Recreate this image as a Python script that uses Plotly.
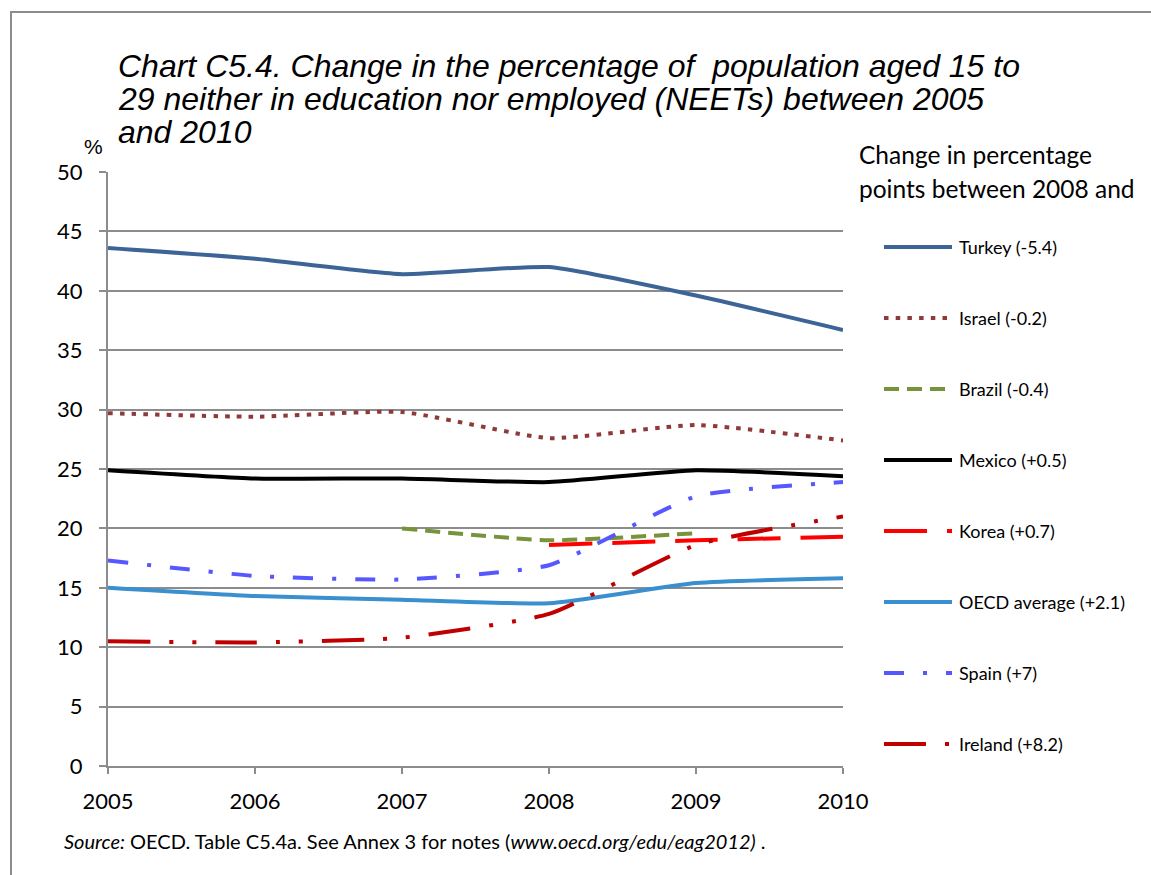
import plotly.graph_objects as go

# NEET rates (% of population aged 15-29), 2005-2010
years = [2005, 2006, 2007, 2008, 2009, 2010]
turkey = [43.6, 42.7, 41.4, 42.0, 39.6, 36.7]
israel = [29.7, 29.4, 29.8, 27.6, 28.7, 27.4]
brazil = [None, None, 20.0, 19.0, 19.6, None]
mexico = [24.9, 24.2, 24.2, 23.9, 24.9, 24.4]
korea = [None, None, None, 18.6, 19.0, 19.3]
oecd = [15.0, 14.3, 14.0, 13.7, 15.4, 15.8]
spain = [17.3, 16.0, 15.7, 16.9, 22.7, 23.9]
ireland = [10.5, 10.4, 10.8, 12.8, 18.6, 21.0]

series_names = ["Turkey (-5.4)", "Israel (-0.2)", "Brazil (-0.4)", "Mexico (+0.5)",
                "Korea (+0.7)", "OECD average (+2.1)", "Spain (+7)", "Ireland (+8.2)"]
series_values = [turkey, israel, brazil, mexico, korea, oecd, spain, ireland]
colors = ["#3C6496", "#8E3A38", "#77933C", "#000000",
          "#FF0000", "#3A8FCE", "#5757FF", "#C00000"]
dashes = ["solid", "4.5px,7.2px", "15px,8px", "solid",
          "43px,20px", "solid", "20px,19px,4px,19px", "42px,19px,4px,19px,4px,19px"]

y_ticks = list(range(0, 51, 5))

title_lines = ["Chart C5.4. Change in the percentage of  population aged 15 to",
               "29 neither in education nor employed (NEETs) between 2005",
               "and 2010"]
legend_title_lines = ["Change in percentage", "points between 2008 and"]

W, H = 1151, 875
L, R, T, B = 108, 308, 172, 109
pw, ph = W - L - R, H - T - B


def px_x(px):
    return (px - L) / pw


def px_y(py):
    return (H - B - py) / ph


calibri = "Lato, 'Open Sans', sans-serif"
arial = "'Liberation Sans', Arial, sans-serif"

fig = go.Figure()
for name, vals, col, dash in zip(series_names, series_values, colors, dashes):
    fig.add_trace(go.Scatter(
        x=years, y=vals, name=name, mode="lines",
        line=dict(color=col, width=4, dash=dash, shape="spline", smoothing=0.5),
        connectgaps=False, showlegend=False,
    ))

shapes = [dict(type="rect", xref="paper", yref="paper",
               x0=px_x(11), y0=px_y(890), x1=px_x(1170), y1=px_y(12),
               line=dict(color="#8c8c8c", width=2), fillcolor="rgba(0,0,0,0)",
               layer="below")]
annotations = []

# Chart title, one annotation per line for tight line spacing
for i, line in enumerate(title_lines):
    annotations.append(dict(
        text=f"<i>{line}</i>", xref="paper", yref="paper",
        x=px_x(116), y=px_y(66 + 33 * i), xanchor="left", yanchor="middle",
        showarrow=False, font=dict(family=arial, size=32, color="#000")))

annotations.append(dict(text="%", xref="paper", yref="paper", x=px_x(93), y=px_y(147),
                        xanchor="center", yanchor="middle", showarrow=False,
                        font=dict(family=arial, size=21, color="#000")))

annotations.append(dict(
    text="<i>Source:</i> OECD. Table C5.4a. See Annex 3 for notes "
         "(<i>www.oecd.org/edu/eag2012)</i> .",
    xref="paper", yref="paper", x=px_x(62), y=px_y(841),
    xanchor="left", yanchor="middle", showarrow=False,
    font=dict(family=calibri, size=20, color="#000")))

# Legend block on the right
for i, line in enumerate(legend_title_lines):
    annotations.append(dict(
        text=line, xref="paper", yref="paper", x=px_x(857), y=px_y(154 + 34 * i),
        xanchor="left", yanchor="middle", showarrow=False,
        font=dict(family=calibri, size=24.5, color="#000")))

for i, (name, col, dash) in enumerate(zip(series_names, colors, dashes)):
    yc = 247 + 71 * i
    shapes.append(dict(type="line", xref="paper", yref="paper",
                       x0=px_x(884), x1=px_x(952), y0=px_y(yc), y1=px_y(yc),
                       line=dict(color=col, width=4, dash=dash)))
    annotations.append(dict(
        text=name, xref="paper", yref="paper", x=px_x(957), y=px_y(yc),
        xanchor="left", yanchor="middle", showarrow=False,
        font=dict(family=calibri, size=18, color="#000")))

fig.update_layout(
    width=W, height=H,
    margin=dict(l=L, r=R, t=T, b=B, autoexpand=False),
    plot_bgcolor="white", paper_bgcolor="white",
    showlegend=False,
    xaxis=dict(
        range=[2005, 2010], tickvals=years, ticktext=[str(y) for y in years],
        showgrid=False, showline=True, linecolor="#8c8c8c", linewidth=2,
        ticks="outside", ticklen=6, tickcolor="#8c8c8c", tickwidth=2,
        ticklabelstandoff=9,
        tickfont=dict(family=calibri, size=22, color="#000"), zeroline=False,
    ),
    yaxis=dict(
        range=[0, 50], tickvals=y_ticks,
        showgrid=True, gridcolor="#8c8c8c", gridwidth=2,
        showline=True, linecolor="#8c8c8c", linewidth=2,
        ticks="outside", ticklen=7, tickcolor="#8c8c8c", tickwidth=2,
        ticklabelstandoff=12,
        tickfont=dict(family=calibri, size=22, color="#000"), zeroline=False,
    ),
    shapes=shapes,
    annotations=annotations,
)

fig.write_html("out.html")
